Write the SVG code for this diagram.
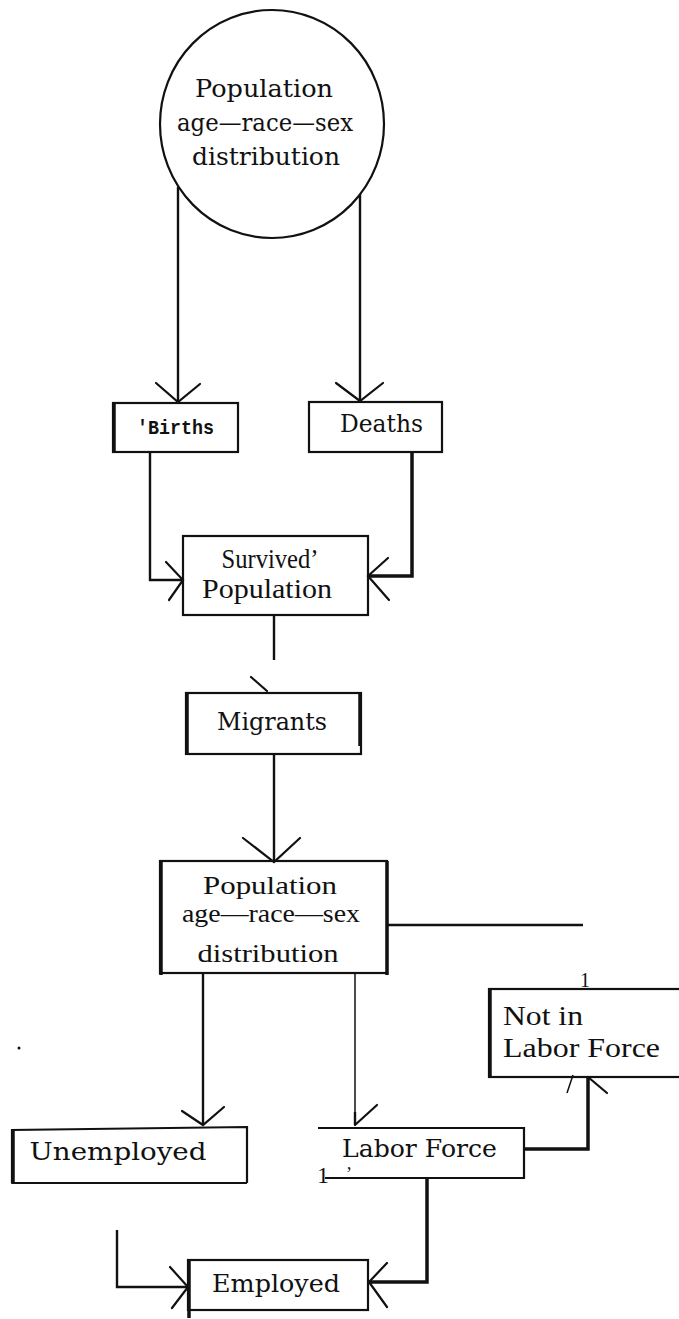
<svg xmlns="http://www.w3.org/2000/svg" width="679" height="1319" viewBox="0 0 679 1319">
<style>
.bg{fill:#fff}
.box{fill:none;stroke:#111;stroke-width:2.2}
.thick{fill:none;stroke:#111;stroke-width:3.5}
.ln{fill:none;stroke:#111;stroke-width:2.4}
.thin{fill:none;stroke:#111;stroke-width:1.5}
.ah{fill:none;stroke:#111;stroke-width:2.2;stroke-linecap:round;stroke-linejoin:miter}
.cs{font-family:"DejaVu Serif","Liberation Serif",serif;fill:#111}
.tm{font-family:"Liberation Serif","Times New Roman",serif;fill:#111}
.mono{font-family:"Liberation Mono","Courier New",monospace;font-weight:bold;fill:#111}
</style>
<rect class="bg" x="0" y="0" width="679" height="1319"/>

<g id="connectors">
  <line class="ln" x1="178" y1="187" x2="178" y2="402"/>
  <polyline class="ah" points="156,383 178,402 200,384"/>
  <line class="ln" x1="360" y1="194" x2="360" y2="401"/>
  <polyline class="ah" points="336,383 360,401 383,383"/>

  <polyline class="ln" points="150,452 150,580 183,580"/>
  <polyline class="ah" points="166,562 183,580 169,600"/>
  <polyline class="thick" points="412,452 412,576 368,576"/>
  <polyline class="ah" points="388,558 368,576 389,600"/>

  <line class="ln" x1="274" y1="615" x2="274" y2="660"/>
  <line class="ah" x1="251" y1="677" x2="267" y2="691"/>

  <line class="ln" x1="274" y1="754" x2="274" y2="862"/>
  <polyline class="ah" points="243,838 274,862 300,838"/>

  <line class="ln" x1="387" y1="925" x2="583" y2="925"/>

  <line class="ln" x1="203" y1="973" x2="203" y2="1125"/>
  <polyline class="ah" points="182,1111 203,1125 224,1107"/>

  <line class="thin" x1="355" y1="973" x2="355" y2="1125"/>
  <line class="ln" x1="355" y1="1112" x2="355" y2="1125"/>
  <line class="ah" x1="355" y1="1125" x2="377" y2="1105"/>

  <polyline class="thick" points="524,1149 588,1149 588,1077"/>
  <line class="ah" x1="588" y1="1077" x2="607" y2="1093"/>
  <line class="thin" x1="567" y1="1093" x2="573" y2="1075"/>

  <polyline class="thick" points="427,1178 427,1282 369,1282"/>
  <polyline class="ah" points="387,1263 369,1282 387,1307"/>

  <polyline class="ln" points="117,1230 117,1287 188,1287"/>
  <polyline class="ah" points="170,1267 188,1287 172,1308"/>
</g>

<g id="node-population-circle">
  <ellipse cx="272" cy="124" rx="112" ry="114" fill="none" stroke="#111" stroke-width="2.2"/>
  <text class="cs" x="264" y="97" font-size="25" text-anchor="middle" textLength="138" lengthAdjust="spacingAndGlyphs">Population</text>
  <text class="cs" x="265" y="131" font-size="25" text-anchor="middle" textLength="176" lengthAdjust="spacingAndGlyphs">age—race—sex</text>
  <text class="cs" x="266" y="165" font-size="25" text-anchor="middle" textLength="148" lengthAdjust="spacingAndGlyphs">distribution</text>
</g>

<g id="node-births">
  <rect class="box" x="113" y="403" width="125" height="49"/>
  <line class="thick" x1="114" y1="403" x2="114" y2="452"/>
  <text class="mono" x="137" y="434" font-size="21" textLength="77" lengthAdjust="spacingAndGlyphs">'Births</text>
</g>

<g id="node-deaths">
  <rect class="box" x="309" y="402" width="133" height="50"/>
  <text class="cs" x="340" y="432" font-size="25" textLength="83" lengthAdjust="spacingAndGlyphs">Deaths</text>
</g>

<g id="node-survived">
  <rect class="box" x="183" y="536" width="185" height="79"/>
  <text class="tm" x="270" y="568" font-size="27" text-anchor="middle" textLength="97" lengthAdjust="spacingAndGlyphs">Survived’</text>
  <text class="tm" x="267" y="598" font-size="27" text-anchor="middle" textLength="130" lengthAdjust="spacingAndGlyphs">Population</text>
</g>

<g id="node-migrants">
  <rect class="box" x="186" y="693" width="175" height="61"/>
  <line class="thick" x1="187" y1="693" x2="187" y2="754"/>
  <line class="thick" x1="360" y1="692" x2="360" y2="746"/>
  <text class="cs" x="217" y="730" font-size="25" textLength="110" lengthAdjust="spacingAndGlyphs">Migrants</text>
</g>

<g id="node-population-box">
  <rect class="box" x="160" y="861" width="227" height="112"/>
  <line class="thick" x1="161" y1="861" x2="161" y2="975"/>
  <line class="thick" x1="387" y1="861" x2="387" y2="975"/>
  <text class="tm" x="270" y="894" font-size="25" text-anchor="middle" textLength="134" lengthAdjust="spacingAndGlyphs">Population</text>
  <text class="tm" x="271" y="922" font-size="25" text-anchor="middle" textLength="178" lengthAdjust="spacingAndGlyphs">age—race—sex</text>
  <text class="tm" x="268" y="962" font-size="26" text-anchor="middle" textLength="141" lengthAdjust="spacingAndGlyphs">distribution</text>
</g>

<g id="node-not-in-labor-force">
  <rect class="box" x="489" y="989" width="200" height="88"/>
  <line class="thick" x1="490" y1="989" x2="490" y2="1077"/>
  <text class="tm" x="585" y="987" font-size="20" text-anchor="middle">1</text>
  <text class="tm" x="503" y="1025" font-size="27" textLength="80" lengthAdjust="spacingAndGlyphs">Not in</text>
  <text class="tm" x="503" y="1057" font-size="27" textLength="157" lengthAdjust="spacingAndGlyphs">Labor Force</text>
</g>

<g id="node-unemployed">
  <polyline class="box" points="12,1183 12,1130 247,1127 247,1183"/>
  <line class="thick" x1="13" y1="1130" x2="13" y2="1184"/>
  <line class="box" x1="12" y1="1183" x2="247" y2="1183"/>
  <text class="cs" x="118" y="1160" font-size="25" text-anchor="middle" textLength="177" lengthAdjust="spacingAndGlyphs">Unemployed</text>
</g>

<g id="node-labor-force">
  <polyline class="box" points="318,1128 524,1128 524,1178 325,1178"/>
  <text class="cs" x="342" y="1157" font-size="25" textLength="155" lengthAdjust="spacingAndGlyphs">Labor Force</text>
  <text class="tm" x="317" y="1183" font-size="24">1</text>
  <text class="tm" x="346" y="1180" font-size="18">’</text>
</g>

<g id="node-employed">
  <rect class="box" x="188" y="1260" width="180" height="50"/>
  <line class="thick" x1="189" y1="1260" x2="189" y2="1318"/>
  <text class="cs" x="276" y="1292" font-size="25" text-anchor="middle" textLength="128" lengthAdjust="spacingAndGlyphs">Employed</text>
</g>

<circle cx="19" cy="1048" r="1.5" fill="#111"/>
</svg>
